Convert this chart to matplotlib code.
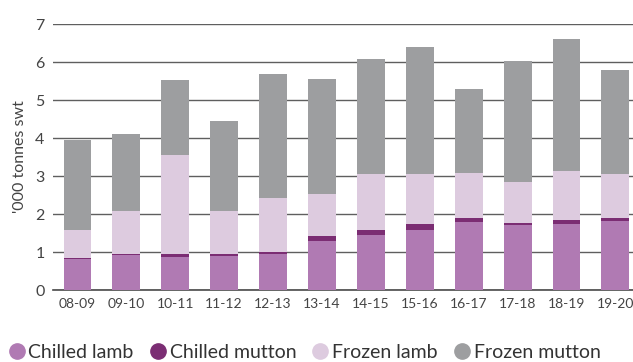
import matplotlib
matplotlib.use('Agg')
import matplotlib.pyplot as plt
from matplotlib.lines import Line2D
import numpy as np

plt.rcParams['font.family'] = ['Lato', 'DejaVu Sans']

seasons = ['08-09', '09-10', '10-11', '11-12', '12-13', '13-14',
           '14-15', '15-16', '16-17', '17-18', '18-19', '19-20']
chilled_lamb = [0.81, 0.91, 0.88, 0.90, 0.95, 1.30, 1.45, 1.58, 1.79, 1.72, 1.74, 1.82]
chilled_mutton = [0.03, 0.03, 0.08, 0.06, 0.06, 0.13, 0.13, 0.16, 0.11, 0.05, 0.11, 0.08]
frozen_lamb = [0.73, 1.15, 2.58, 1.13, 1.42, 1.10, 1.47, 1.31, 1.18, 1.08, 1.29, 1.15]
frozen_mutton = [2.38, 2.02, 1.99, 2.36, 3.26, 3.02, 3.03, 3.34, 2.21, 3.18, 3.47, 2.74]

series = [('Chilled lamb', chilled_lamb, '#b07ab3'),
          ('Chilled mutton', chilled_mutton, '#7b2d73'),
          ('Frozen lamb', frozen_lamb, '#ddcbdf'),
          ('Frozen mutton', frozen_mutton, '#9d9ea0')]

W, H = 633, 362
fig = plt.figure(figsize=(W / 100, H / 100), dpi=100)
ax = fig.add_axes([53 / W, (H - 290) / H, (W - 53) / W, 266 / H])

x = np.arange(len(seasons))
bottom = np.zeros(len(seasons))
for name, vals, col in series:
    ax.bar(x, vals, width=0.57, bottom=bottom, color=col, zorder=3)
    bottom += np.array(vals)

ax.set_ylim(0, 7)
ax.set_xlim(-0.5, 11.36)
ax.set_yticks(range(8))
ax.yaxis.grid(True, color='#5f5f5f', linewidth=1.0, zorder=0)
for s in ['top', 'right', 'left']:
    ax.spines[s].set_visible(False)
ax.spines['bottom'].set_color('#4a4a4a')
ax.spines['bottom'].set_linewidth(1.2)
ax.tick_params(axis='y', length=0, pad=6, labelsize=11.5, labelcolor='#444444')
ax.tick_params(axis='x', length=0, pad=6, labelsize=10, labelcolor='#444444')
ax.set_xticks(x)
ax.set_xticklabels(seasons)
ax.set_ylabel("'000 tonnes swt", fontsize=11.5, color='#444444', labelpad=6)

handles = [Line2D([], [], marker='o', linestyle='', markersize=11,
                  markerfacecolor=col, markeredgecolor=col) for _, _, col in series]
labels = [name for name, _, _ in series]
fig.legend(handles, labels, loc='center left', bbox_to_anchor=(0.0, 10 / H),
           ncol=4, frameon=False, fontsize=14, handletextpad=0.15,
           columnspacing=0.8, borderaxespad=0, handlelength=0.9,
           labelcolor='#333333')

fig.savefig('out.png', dpi=100)
